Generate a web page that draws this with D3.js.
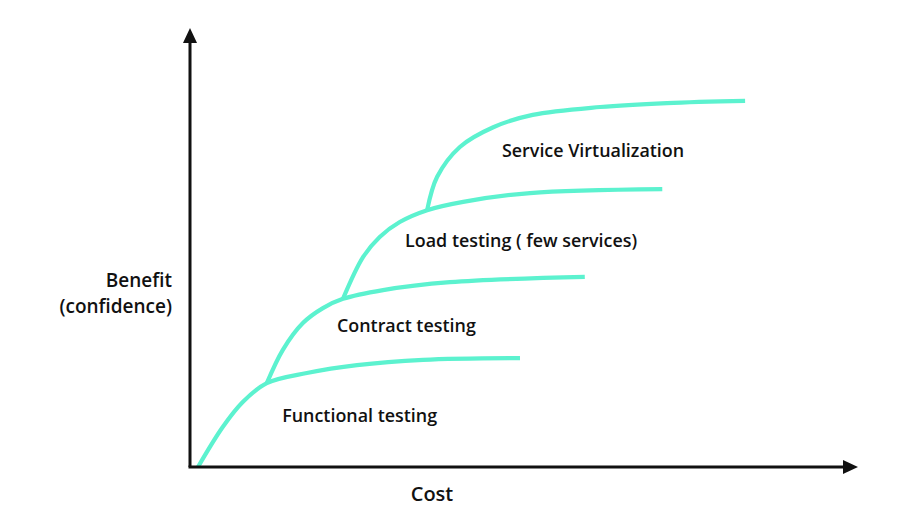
<!DOCTYPE html>
<html>
<head>
<meta charset="utf-8">
<script src="https://cdn.jsdelivr.net/npm/d3@7"></script>
<style>
  html, body { margin: 0; padding: 0; background: #fff; }
  svg { display: block; }
  text { font-family: "Open Sans", "Noto Sans", sans-serif; fill: #111; }
</style>
</head>
<body>
<svg id="chart" width="908" height="522"></svg>
<script>
// ---- Data (cost vs. benefit, arbitrary units 0..100) ----
const seriesNames = ["Functional testing", "Contract testing", "Load testing ( few services)", "Service Virtualization"];
const functionalCost    = [1.2, 4.9, 7.9, 11.5, 17.5, 25.0, 34.9, 49.4];
const functionalBenefit = [0.0, 9.1, 14.8, 19.1, 21.4, 23.2, 24.4, 24.8];
const contractCost      = [11.5, 13.9, 16.9, 19.9, 22.9, 28.9, 38.9, 59.1];
const contractBenefit   = [19.1, 26.7, 32.8, 36.2, 38.3, 40.3, 42.1, 43.3];
const loadCost          = [22.9, 25.9, 28.4, 31.4, 35.5, 40.9, 50.9, 70.7];
const loadBenefit       = [38.3, 47.8, 52.4, 55.8, 58.5, 60.4, 62.4, 63.3];
const virtCost          = [35.5, 37.0, 40.4, 45.4, 51.3, 61.4, 71.4, 83.1];
const virtBenefit       = [58.5, 66.1, 72.9, 77.4, 80.2, 82.0, 82.9, 83.4];
// label anchor positions (data units)
const labelCost    = [13.8, 22.0, 32.2, 46.7];
const labelBenefit = [11.8, 32.3, 51.7, 72.2];
const xAxisTitle = "Cost";
const yAxisTitle = ["Benefit", "(confidence)"];

const costs = [functionalCost, contractCost, loadCost, virtCost];
const benefits = [functionalBenefit, contractBenefit, loadBenefit, virtBenefit];

// ---- Layout ----
const svg = d3.select("#chart");
const x0 = 190, x1 = 858, y0 = 467, y1 = 28;
const x = d3.scaleLinear().domain([0, 100]).range([x0, x1]);
const y = d3.scaleLinear().domain([0, 100]).range([y0, y1]);
const teal = "#5cf2cf";

// curves
const line = d3.line()
  .x(d => x(d[0]))
  .y(d => y(d[1]))
  .curve(d3.curveCatmullRom.alpha(0.5));

costs.forEach((c, i) => {
  const pts = c.map((v, j) => [v, benefits[i][j]]);
  svg.append("path")
    .attr("d", line(pts))
    .attr("fill", "none")
    .attr("stroke", teal)
    .attr("stroke-width", 4.2)
    .attr("stroke-linecap", "butt");
});

// axes
svg.append("line").attr("x1", x0).attr("y1", y0).attr("x2", x0).attr("y2", y1 + 12)
  .attr("stroke", "#111").attr("stroke-width", 3);
svg.append("line").attr("x1", x0 - 1.5).attr("y1", y0).attr("x2", x1 - 12).attr("y2", y0)
  .attr("stroke", "#111").attr("stroke-width", 3);
// arrowheads
svg.append("path")
  .attr("d", `M${x0},${y1} L${x0 - 7},${y1 + 15} L${x0 + 7},${y1 + 15} Z`)
  .attr("fill", "#111");
svg.append("path")
  .attr("d", `M${x1},${y0} L${x1 - 15},${y0 - 7} L${x1 - 15},${y0 + 7} Z`)
  .attr("fill", "#111");

// series labels
seriesNames.forEach((n, i) => {
  svg.append("text")
    .attr("x", x(labelCost[i]))
    .attr("y", y(labelBenefit[i]))
    .attr("dominant-baseline", "central")
    .attr("font-size", 17.9)
    .attr("font-weight", 600)
    .text(n);
});

// axis titles
svg.append("text")
  .attr("x", 432).attr("y", 493)
  .attr("text-anchor", "middle").attr("dominant-baseline", "central")
  .attr("font-size", 20).attr("font-weight", 600)
  .text(xAxisTitle);
yAxisTitle.forEach((t, i) => {
  svg.append("text")
    .attr("x", 172).attr("y", 280 + i * 26)
    .attr("text-anchor", "end").attr("dominant-baseline", "central")
    .attr("font-size", 19).attr("font-weight", 600)
    .text(t);
});
</script>
</body>
</html>
